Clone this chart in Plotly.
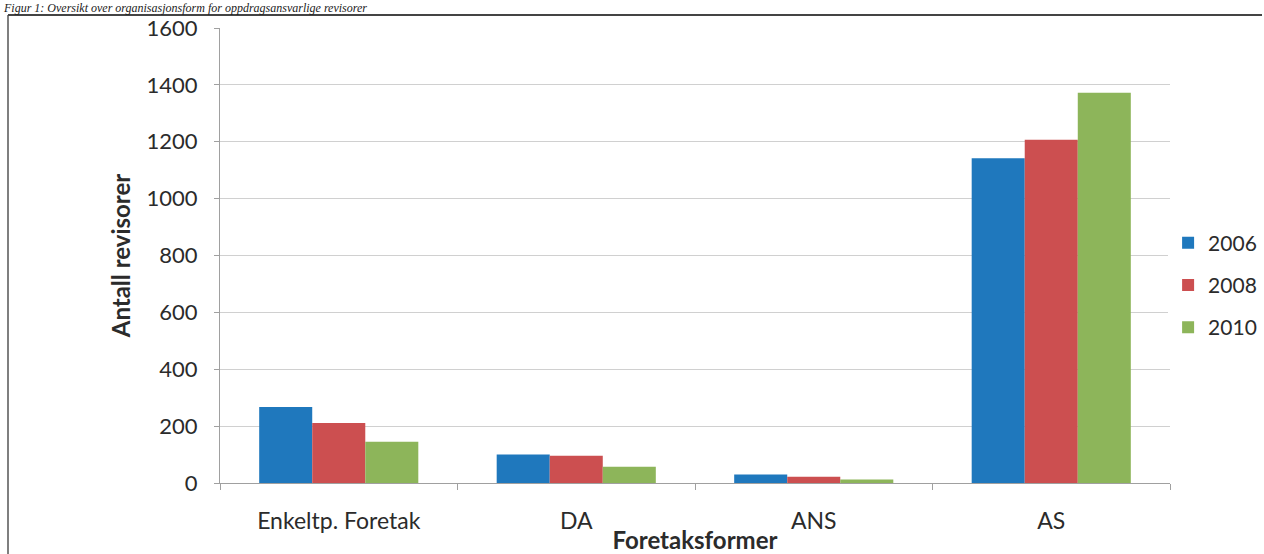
import plotly.graph_objects as go

categories = ["Enkeltp. Foretak", "DA", "ANS", "AS"]
years = ["2006", "2008", "2010"]
values_2006 = [267, 100, 30, 1142]
values_2008 = [211, 96, 22, 1207]
values_2010 = [145, 57, 12, 1372]
colors = ["#1f78bd", "#cc4f50", "#8db55a"]
y_ticks = [0, 200, 400, 600, 800, 1000, 1200, 1400, 1600]

W, H = 1264, 554
L, R, T, B = 220, 94, 28, 71
pw, ph = W - L - R, H - T - B


def px(x):
    return (x - L) / pw


def py(y):
    return (H - B - y) / ph


fig = go.Figure()
for name, vals, col in zip(years, [values_2006, values_2008, values_2010], colors):
    fig.add_trace(go.Bar(x=categories, y=vals, name=name, legendgroup=name,
                         marker=dict(color=col, line=dict(width=0))))

font_family = "Lato, 'Open Sans', sans-serif"
txt = "#2b2b2b"
fig.update_layout(
    width=W, height=H,
    margin=dict(l=L, r=R, t=T, b=B, autoexpand=False),
    paper_bgcolor="white", plot_bgcolor="white",
    barmode="group", bargap=0.33, bargroupgap=0,
    font=dict(family=font_family, size=21, color=txt),
    legend=dict(x=0.998, y=py(285), xanchor="left", yanchor="middle",
                font=dict(size=21, color=txt), itemwidth=30,
                tracegroupgap=12),
    showlegend=True,
)
fig.update_yaxes(
    range=[0, 1600], tickvals=y_ticks, showgrid=True, gridcolor="#d0d0d0", gridwidth=1,
    showline=True, linecolor="#a0a0a0", linewidth=1, ticks="outside", ticklen=5, tickcolor="#a0a0a0",
    tickfont=dict(size=22, color=txt), ticklabelstandoff=12, automargin=False,
    title=dict(text="<b>Antall revisorer</b>", font=dict(size=24, color=txt), standoff=9),
    zeroline=False,
)
fig.update_xaxes(
    showline=True, linecolor="#a0a0a0", linewidth=1, ticks="outside", ticklen=6, tickcolor="#a0a0a0",
    tickson="boundaries", tickfont=dict(size=23, color=txt), ticklabelstandoff=17, automargin=False,
    title=dict(text="<b>Foretaksformer</b>", font=dict(size=24, color=txt), standoff=0),
)

# frame lines around the chart (left and top)
fig.add_shape(type="line", xref="paper", yref="paper", x0=px(8), x1=px(8), y0=py(554), y1=py(15),
              line=dict(color="#555555", width=1.5))
fig.add_shape(type="line", xref="paper", yref="paper", x0=px(8), x1=px(1262), y0=py(15), y1=py(15),
              line=dict(color="#444444", width=2))
# caption at the very top
fig.add_annotation(xref="paper", yref="paper", x=px(2), y=py(0), xanchor="left", yanchor="top",
                   text="<i>Figur 1: Oversikt over organisasjonsform for oppdragsansvarlige revisorer</i>",
                   showarrow=False, borderpad=0,
                   font=dict(family="Liberation Serif, serif", size=12, color="#222222"))

fig.write_html("out.html", config={"displayModeBar": False},
               post_script="document.body.style.margin='0';")
